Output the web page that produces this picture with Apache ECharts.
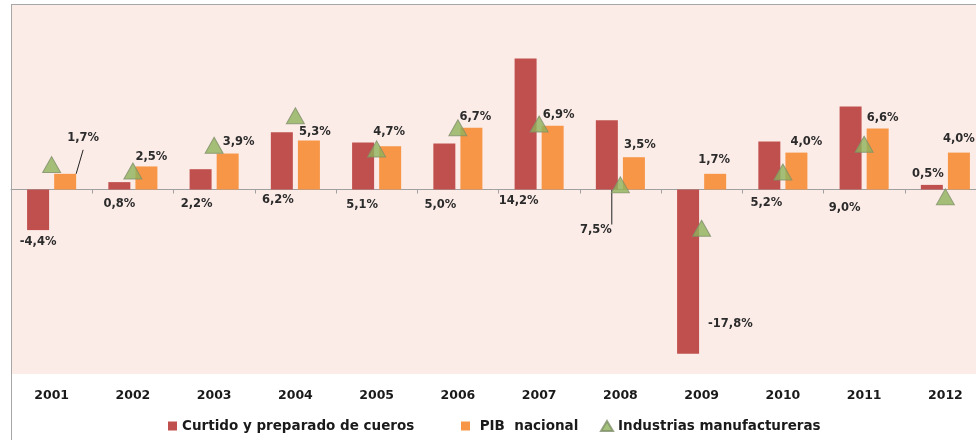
<!DOCTYPE html>
<html>
<head>
<meta charset="utf-8">
<script src="https://cdn.jsdelivr.net/npm/echarts@6/dist/echarts.min.js"></script>
<style>
html,body{margin:0;padding:0;background:#fff;}
#chart{width:976px;height:440px;}
#frame{position:absolute;left:11px;top:4px;width:980px;height:450px;border-left:1px solid #a6a6a6;border-top:1px solid #a6a6a6;pointer-events:none;}
</style>
</head>
<body>
<div id="chart"></div>
<div id="frame"></div>
<script>
// ---- data ----
const years = ['2001','2002','2003','2004','2005','2006','2007','2008','2009','2010','2011','2012'];
const curtido = [-4.4, 0.8, 2.2, 6.2, 5.1, 5.0, 14.2, 7.5, -17.8, 5.2, 9.0, 0.5];
const pib = [1.7, 2.5, 3.9, 5.3, 4.7, 6.7, 6.9, 3.5, 1.7, 4.0, 6.6, 4.0];
const industrias = [2.7, 2.0, 4.8, 8.0, 4.4, 6.7, 7.1, 0.5, -4.2, 1.9, 4.9, -0.8];
const seriesNames = ['Curtido y preparado de cueros', 'PIB  nacional', 'Industrias manufactureras'];

// ---- label placement (style only) ----
const redPos = ['bottom','bottom','bottom','bottom','bottom','bottom','bottom','bottom','right','bottom','bottom','top'];
const redOff = [[0,1],[0,4],[-4,4],[-4,0],[-1,5],[-4,5],[-7,1],[-11,30],[4,52],[-3,3],[-6,8],[-4,0]];
const redLine = [false,false,false,false,false,false,false,true,false,false,false,false];
const orgOff = [[18,-25],[5,2],[11,-1],[6,2],[-1,-3],[4,0],[6,0],[6,-1],[-1,-3],[10,0],[5,0],[0,-3]];
const orgLine = [true,false,false,false,false,false,false,false,false,false,false,false];

const FONT = '"DejaVu Sans", sans-serif';
const fmt = v => v.toFixed(1).replace('.', ',') + '%';
const labelBase = {show:true, fontFamily:FONT, fontWeight:'bold', fontSize:11.5, color:'#2b2b2b', formatter:p=>fmt(p.value)};
const legendText = {fontFamily:FONT, fontWeight:'bold', fontSize:13.5, color:'#1a1a1a'};

const chart = echarts.init(document.getElementById('chart'), null, {renderer:'canvas'});
chart.setOption({
  animation:false,
  backgroundColor:'#ffffff',
  grid:{left:11, right:-10, top:5, bottom:66, show:true, backgroundColor:'#fcece8', borderWidth:0,
        containLabel:false, outerBoundsMode:'none'},
  xAxis:[
    {type:'category', data:years, position:'bottom', axisLine:{show:false, onZero:false}, axisTick:{show:false},
     axisLabel:{fontFamily:FONT, fontWeight:'bold', fontSize:12.5, color:'#1a1a1a', margin:15}},
    {type:'category', data:years, position:'bottom', axisLine:{show:true, onZero:true, lineStyle:{color:'#a0a0a0', width:1}},
     axisTick:{show:true, length:4, lineStyle:{color:'#a0a0a0'}}, axisLabel:{show:false}}
  ],
  yAxis:{type:'value', min:-20, max:20, show:false, splitLine:{show:false}},
  legend:[
    {data:[seriesNames[0]], left:163, top:414, icon:'rect', itemWidth:9, itemHeight:9, itemGap:5, textStyle:legendText},
    {data:[seriesNames[1]], left:456, top:414, icon:'rect', itemWidth:9, itemHeight:9, itemGap:5, textStyle:legendText,
     formatter:n=>' '+n},
    {data:[seriesNames[2]], left:595, top:414, icon:'triangle', itemWidth:12, itemHeight:10, itemGap:5, textStyle:legendText}
  ],
  series:[
    {name:seriesNames[0], type:'bar', barWidth:22, barGap:'23%', xAxisIndex:0,
     itemStyle:{color:'#c0504d'},
     data:curtido.map((v,i)=>({value:v,
       label:Object.assign({}, labelBase, {position:redPos[i], distance:5, offset:redOff[i]}),
       labelLine:{show:redLine[i], lineStyle:{color:'#222', width:1}}}))},
    {name:seriesNames[1], type:'bar', barWidth:22, barGap:'23%', xAxisIndex:0,
     itemStyle:{color:'#f79646'},
     data:pib.map((v,i)=>({value:v,
       label:Object.assign({}, labelBase, {position:'top', distance:5, offset:orgOff[i]}),
       labelLine:{show:orgLine[i], lineStyle:{color:'#222', width:1}}}))},
    {name:seriesNames[2], type:'scatter', xAxisIndex:0, symbol:'triangle', symbolSize:[18,16], z:5,
     itemStyle:{color:'#8fb35a', borderColor:'#7f8f6a', borderWidth:1},
     data:industrias}
  ]
});
</script>
</body>
</html>
